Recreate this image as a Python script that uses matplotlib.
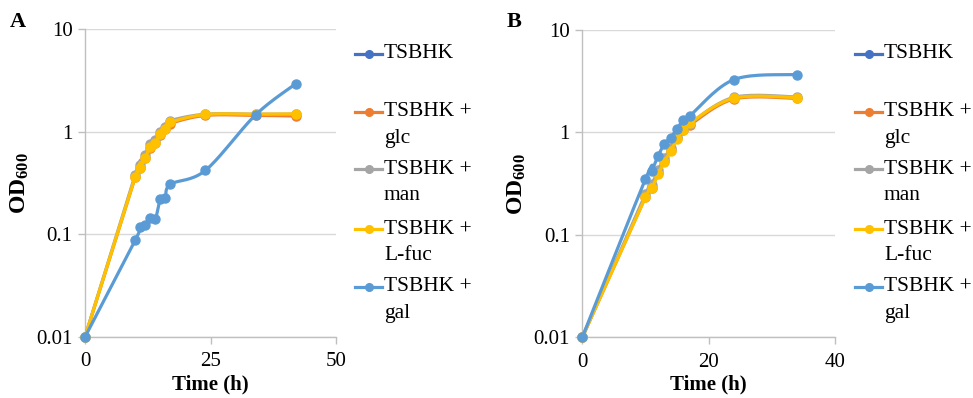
import numpy as np
import matplotlib
matplotlib.use("Agg")
import matplotlib.pyplot as plt
from matplotlib.lines import Line2D
from matplotlib.ticker import FixedLocator, FixedFormatter, NullLocator

plt.rcParams['font.family'] = ['Liberation Serif', 'DejaVu Serif']
plt.rcParams['mathtext.fontset'] = 'custom'
plt.rcParams['mathtext.rm'] = 'Liberation Serif'
plt.rcParams['mathtext.bf'] = 'Liberation Serif:bold'
plt.rcParams['mathtext.it'] = 'Liberation Serif:italic'

# ---------------- data ----------------
series_names = ["TSBHK", "TSBHK +\nglc", "TSBHK +\nman", "TSBHK +\nL-fuc", "TSBHK +\ngal"]
series_colors = ["#4472C4", "#ED7D31", "#A5A5A5", "#FFC000", "#5B9BD5"]

# Panel A
time_A = [0, 10, 11, 12, 13, 14, 15, 16, 17, 24, 34, 42]
tsbhk_A = []  # not visible in the chart
glc_A = [0.01, 0.36, 0.44, 0.55, 0.70, 0.77, 0.93, 1.05, 1.20, 1.44, 1.44, 1.42]
man_A = [0.01, 0.38, 0.47, 0.59, 0.75, 0.83, 1.00, 1.12, 1.28, 1.48, 1.48, 1.48]
lfuc_A = [0.01, 0.364, 0.44, 0.557, 0.713, 0.78, 0.948, 1.06, 1.23, 1.47, 1.48, 1.49]
gal_A = [0.01, 0.0875, 0.117, 0.123, 0.145, 0.14, 0.221, 0.224, 0.307, 0.42, 1.46, 2.93]

# Panel B
time_B = [0, 10, 11, 12, 13, 14, 15, 16, 17, 24, 34]
tsbhk_B = []  # not visible in the chart
glc_B = [0.01, 0.235, 0.29, 0.40, 0.53, 0.68, 0.88, 1.05, 1.18, 2.12, 2.15]
man_B = [0.01, 0.25, 0.31, 0.43, 0.56, 0.71, 0.91, 1.08, 1.22, 2.20, 2.22]
lfuc_B = [0.01, 0.233, 0.285, 0.39, 0.519, 0.66, 0.87, 1.06, 1.23, 2.16, 2.19]
gal_B = [0.01, 0.351, 0.424, 0.59, 0.772, 0.89, 1.09, 1.32, 1.45, 3.28, 3.67]

y_ticks = [0.01, 0.1, 1, 10]
y_tick_labels = ["0.01", "0.1", "1", "10"]
x_ticks_A = [0, 25, 50]
x_ticks_B = [0, 20, 40]

# ---------------- helpers ----------------
def smooth(x, y, n=20):
    """Excel-like smoothed line (Catmull-Rom Bezier) in (x, log10 y) space."""
    x = np.asarray(x, float)
    ly = np.log10(np.asarray(y, float))
    if len(x) < 3:
        return x, 10 ** ly
    P = np.column_stack([x, ly])
    out = [P[0]]
    for i in range(len(P) - 1):
        p0 = P[i - 1] if i > 0 else P[i]
        p1 = P[i]
        p2 = P[i + 1]
        p3 = P[i + 2] if i + 2 < len(P) else P[i + 1]
        c1 = p1 + (p2 - p0) / 6.0
        c2 = p2 - (p3 - p1) / 6.0
        t = np.linspace(0, 1, n)[1:, None]
        b = ((1 - t) ** 3) * p1 + 3 * ((1 - t) ** 2) * t * c1 + 3 * (1 - t) * t ** 2 * c2 + t ** 3 * p2
        out.extend(b)
    out = np.array(out)
    return out[:, 0], 10 ** out[:, 1]


W, H = 973, 398
fig = plt.figure(figsize=(W / 100, H / 100), dpi=100)

grid_c = "#D9D9D9"
axis_c = "#BFBFBF"
tick_fs = 15


def make_panel(rect, t, data, xlim, xticks, letter, letter_x, leg_x0):
    ax = fig.add_axes(rect)
    ax.set_yscale("log")
    ax.set_xlim(*xlim)
    ax.set_ylim(0.01, 10)
    ax.yaxis.set_major_locator(FixedLocator(y_ticks))
    ax.yaxis.set_major_formatter(FixedFormatter(y_tick_labels))
    ax.yaxis.set_minor_locator(NullLocator())
    ax.set_xticks(xticks)
    ax.set_xticklabels([str(v) for v in xticks])
    for s in ["top", "right"]:
        ax.spines[s].set_visible(False)
    for s in ["left", "bottom"]:
        ax.spines[s].set_color(axis_c)
        ax.spines[s].set_linewidth(1.0)
    ax.grid(axis="y", color=grid_c, linewidth=1.0)
    ax.set_axisbelow(True)
    ax.tick_params(axis="both", colors=axis_c, labelcolor="black", labelsize=tick_fs,
                   length=5, width=1.0, direction="out", pad=4)
    ax.tick_params(axis="x", pad=6)
    ax.set_xlabel("Time (h)", fontsize=15, fontweight="bold", labelpad=2)
    ax.set_ylabel(r"$\mathbf{OD}_{\mathbf{600}}$", fontsize=17, labelpad=4)

    for vals, col in zip(data, series_colors):
        if len(vals) == 0:
            continue
        xs, ys = smooth(t, vals)
        ax.plot(xs, ys, color=col, lw=2.3, solid_capstyle="round", clip_on=False, zorder=3)
        ax.plot(t, vals, linestyle="none", marker="o", ms=6.5, color=col,
                markeredgecolor=col, clip_on=False, zorder=3)

    fig.text(letter_x / W, 1 - 22 / H, letter, fontsize=16, fontweight="bold",
             ha="left", va="center")

    # legend (manual, Excel-style)
    row_y = [54, 111.7, 169, 229, 286.5]
    for name, col, yy in zip(series_names, series_colors, row_y):
        yf = 1 - yy / H
        fig.add_artist(Line2D([leg_x0 / W, (leg_x0 + 27) / W], [yf, yf], color=col, lw=2.3,
                              transform=fig.transFigure))
        fig.add_artist(Line2D([(leg_x0 + 13.5) / W], [yf], color=col, marker="o", ms=5.5,
                              linestyle="none", transform=fig.transFigure))
        lines = name.split("\n")
        for k, ln in enumerate(lines):
            fig.text((leg_x0 + 29) / W, 1 - (yy + 27 * k) / H, ln, fontsize=15.5,
                     ha="left", va="center")
    return ax


make_panel([85 / W, 1 - 337 / H, 251 / W, 308 / H], time_A,
           [tsbhk_A, glc_A, man_A, lfuc_A, gal_A], (0, 50), x_ticks_A, "A", 10, 355)
make_panel([582.3 / W, 1 - 337.3 / H, 252.7 / W, 307.3 / H], time_B,
           [tsbhk_B, glc_B, man_B, lfuc_B, gal_B], (0, 40), x_ticks_B, "B", 507, 855)

fig.savefig("out.png", dpi=100)
